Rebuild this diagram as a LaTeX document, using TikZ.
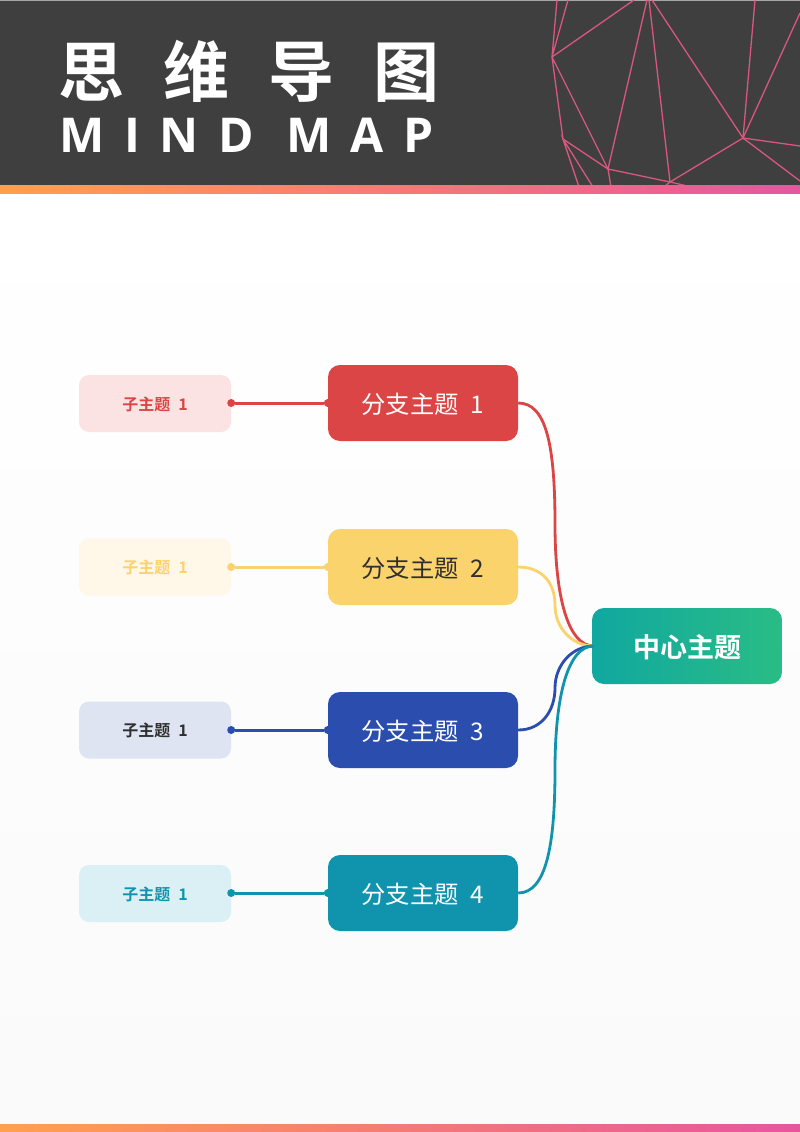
\documentclass[tikz,border=0pt]{standalone}
\usepackage{fontspec}
\setmainfont{Noto Sans CJK SC}
\newfontfamily\latintitle[LetterSpace=41]{Open Sans}
\newfontfamily\boldcjk{Noto Sans CJK SC Bold}
\definecolor{hdr}{HTML}{3F3F3F}
\definecolor{barA}{HTML}{FFA04F}
\definecolor{barB}{HTML}{E8559F}
\definecolor{web}{HTML}{D9577F}
\definecolor{cRed}{HTML}{DC4545}
\definecolor{cYel}{HTML}{FBD36C}
\definecolor{cBlu}{HTML}{2A4DAE}
\definecolor{cTea}{HTML}{1094AE}
\definecolor{sRed}{HTML}{FBE3E4}
\definecolor{sYel}{HTML}{FFF7E8}
\definecolor{sBlu}{HTML}{DFE4F2}
\definecolor{sTea}{HTML}{DAF0F5}
\definecolor{ink}{HTML}{2F2F2F}
\definecolor{cenA}{HTML}{10A8A0}
\definecolor{cenB}{HTML}{2ABC85}
\tikzset{
  subbox/.style={rounded corners=10pt,minimum width=152pt,minimum height=57pt,inner sep=0pt,text height=13.2pt,text depth=0pt,font=\boldcjk\fontsize{16}{16}\selectfont},
  branchbox/.style={rounded corners=12pt,minimum width=190pt,minimum height=76pt,inner sep=0pt,text height=20.2pt,text depth=0pt,font=\fontsize{24.3}{24}\selectfont},
  centerbox/.style={rounded corners=12pt,minimum width=190pt,minimum height=76pt,inner sep=0pt,text height=22.6pt,text depth=0pt,text=white,left color=cenA,right color=cenB,font=\boldcjk\fontsize{27}{27}\selectfont},
  dot/.style={circle,inner sep=0pt,minimum size=8pt},
  link/.style={line width=3pt},
  curvelink/.style={line width=2.8pt},
  webline/.style={draw=web,line width=1.3pt}
}
\begin{document}
\begin{tikzpicture}[x=1pt,y=-1pt]
\useasboundingbox (0,0) rectangle (800,1132);
\shade[top color=white,bottom color=white!98!black] (0,193) rectangle (800,1124);
\fill[hdr] (0,0) rectangle (800,185);
\fill[black!35] (0,0) rectangle (800,1);
% web
\begin{scope}
\clip (540,0) rectangle (800,185);
\coordinate (wa) at (552,57);
\coordinate (wb) at (563,139);
\coordinate (wc) at (608,169);
\coordinate (wd) at (670,182);
\coordinate (we) at (743,138);
\draw[webline] (557,0) -- (wa) -- (568,0);
\draw[webline] (634,0) -- (wa) -- (wb) -- (wc) -- (wa);
\draw[webline] (647,0) -- (wc) -- (wd) -- (649,0);
\draw[webline] (652,0) -- (we) -- (755,0);
\draw[webline] (800,13) -- (we) -- (800,146);
\draw[webline] (800,181) -- (we) -- (wd) -- (692,187);
\draw[webline] (wd) -- (664,187);
\draw[webline] (579,187) -- (wb) -- (593,187);
\draw[webline] (wc) -- (611,187);
\end{scope}
\shade[left color=barA,right color=barB] (0,185) rectangle (800,193);
\shade[left color=barA,right color=barB] (0,1124) rectangle (800,1132);
% title
\node[anchor=west,inner sep=0pt,text=white,font=\boldcjk\fontsize{66}{66}\selectfont] (title) at (58,71.5) {思\hspace{39pt}维\hspace{39pt}导\hspace{39pt}图};
\node[anchor=west,inner sep=0pt,text=white,font=\latintitle\bfseries\fontsize{48}{48}\selectfont] (subtitle) at (59,135) {MIND MAP};
% nodes
\node[centerbox] (center) at (687,646) {中心主题};
\node[branchbox,fill=cRed,text=white] (b1) at (423,403) {分支主题\hspace{12pt}1};
\node[branchbox,fill=cYel,text=ink] (b2) at (423,567) {分支主题\hspace{12pt}2};
\node[branchbox,fill=cBlu,text=white] (b3) at (423,730) {分支主题\hspace{12pt}3};
\node[branchbox,fill=cTea,text=white] (b4) at (423,893) {分支主题\hspace{12pt}4};
\node[subbox,fill=sRed,text=cRed] (s1) at (155,403.5) {子主题\hspace{8pt}1};
\node[subbox,fill=sYel,text=cYel] (s2) at (155,567) {子主题\hspace{8pt}1};
\node[subbox,fill=sBlu,text=ink] (s3) at (155,730) {子主题\hspace{8pt}1};
\node[subbox,fill=sTea,text=cTea] (s4) at (155,893.5) {子主题\hspace{8pt}1};
% dots
\foreach \i/\c in {1/cRed,2/cYel,3/cBlu,4/cTea}{
  \node[dot,fill=\c] (ds\i) at (s\i.east |- b\i.west) {};
  \node[dot,fill=\c] (db\i) at (b\i.west) {};
  \draw[link,draw=\c] (ds\i) -- (db\i);
}
% curved connectors
\coordinate (m1) at (555,524);
\coordinate (m2) at (555,605);
\coordinate (m3) at (555,688);
\coordinate (m4) at (555,770);
\coordinate (cw) at ([xshift=2pt]center.west);
\draw[curvelink,draw=cRed] (b1.east) .. controls +(28,0) and (555,445) .. (m1) .. controls (555,597) and (568,646) .. (cw);
\draw[curvelink,draw=cYel] (b2.east) .. controls +(24,0) and (555,583) .. (m2) .. controls (555,628) and (572,646) .. (cw);
\draw[curvelink,draw=cBlu] (b3.east) .. controls +(24,0) and (555,710) .. (m3) .. controls (555,665) and (572,646) .. (cw);
\draw[curvelink,draw=cTea] (b4.east) .. controls +(28,0) and (555,845) .. (m4) .. controls (555,695) and (568,646) .. (cw);
\end{tikzpicture}
\end{document}
